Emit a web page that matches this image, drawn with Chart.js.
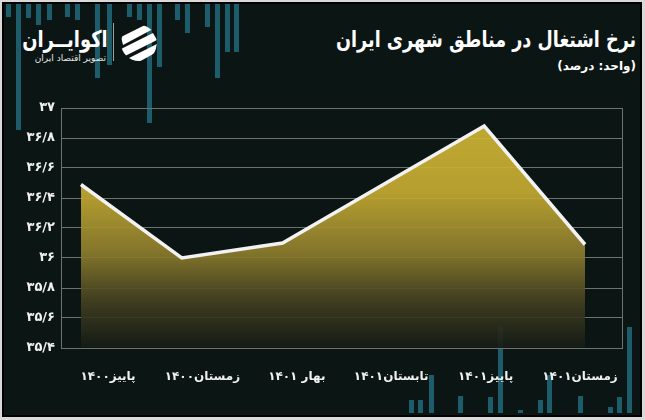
<!DOCTYPE html>
<html>
<head>
<meta charset="utf-8">
<script src="https://cdn.jsdelivr.net/npm/chart.js@4.4.1/dist/chart.umd.min.js"></script>
<style>
  html, body { margin: 0; padding: 0; }
  body { position: relative; width: 645px; height: 420px; background: #d9d9d9; overflow: hidden; font-family: "DejaVu Sans", sans-serif; }
  #frame { position: absolute; left: 2px; top: 2px; right: 3px; bottom: 3px; background: #0b1513; border: 2px solid #000; }
  .bar { position: absolute; width: 5px; background: #1d5d6b; }
  #title { position: absolute; right: 9px; top: 26px; color: #fff; font: bold 22px "DejaVu Sans"; line-height: 28px; direction: rtl; white-space: nowrap; transform: scaleX(0.8); transform-origin: right center; }
  #unit { position: absolute; right: 9px; top: 58px; color: #fff; font: bold 12px "DejaVu Sans"; line-height: 16px; direction: rtl; white-space: nowrap; }
  #brand { position: absolute; right: 537px; top: 25px; color: #fff; font: bold 23px "DejaVu Sans"; line-height: 28px; direction: rtl; white-space: nowrap; transform: scaleX(0.78); transform-origin: right center; }
  #tagline { position: absolute; right: 539px; top: 52px; color: #e6e6e6; font: 9px "DejaVu Sans"; line-height: 12px; direction: rtl; white-space: nowrap; }
  #sep { position: absolute; left: 113px; top: 23px; width: 1px; height: 38px; background: #9aa3a3; }
  #icon { position: absolute; left: 119px; top: 23px; }
  #wrap { position: absolute; left: 0; top: 0; width: 645px; height: 420px; }
  canvas { direction: rtl; }
</style>
</head>
<body>
<div id="frame"></div>
<div id="bars"></div>
<div id="title">نرخ اشتغال در مناطق شهری ایران</div>
<div id="unit">(واحد: درصد)</div>
<div id="brand">اکوایــران</div>
<div id="tagline">تصویر اقتصاد ایران</div>
<div id="sep"></div>
<svg id="icon" width="40" height="40" viewBox="0 0 40 40">
  <defs><clipPath id="c"><circle cx="20" cy="20" r="18"/></clipPath></defs>
  <g clip-path="url(#c)" fill="#fff">
    <polygon points="2,14 26,2 34,6 4,22"/>
    <polygon points="2,26 34,10 38,17 6,33"/>
    <polygon points="8,36 38,21 36,30 18,40"/>
  </g>
</svg>
<div id="wrap"><canvas id="chart"></canvas></div>
<script>
const periods = ["پاییز۱۴۰۰", "زمستان۱۴۰۰", "بهار ۱۴۰۱", "تابستان۱۴۰۱", "پاییز۱۴۰۱", "زمستان۱۴۰۱"]
const rate = [36.49, 36.0, 36.1, 36.49, 36.88, 36.09]
const yTicks = [35.4, 35.6, 35.8, 36, 36.2, 36.4, 36.6, 36.8, 37]

// decorative teal stripes of the publisher's template
const topBars = [[6, 17], [16, 130], [26, 18], [36, 25], [47, 20], [65, 17], [75, 20], [95, 78], [107, 65],
  [127, 17], [137, 20], [147, 123], [157, 67], [175, 20], [185, 33], [205, 27], [215, 78], [225, 52], [234, 52]]
const bottomBars = [[409, 400], [418, 400], [429, 375], [458, 396], [488, 397], [498, 327], [518, 410],
  [538, 400], [547, 375], [578, 396], [608, 407], [617, 397], [627, 327]]

const barsEl = document.getElementById("bars")
topBars.forEach(([x, y]) => {
  const d = document.createElement("div")
  d.className = "bar"
  d.style.cssText = `left:${x}px;top:4px;height:${y - 4}px`
  barsEl.appendChild(d)
})
bottomBars.forEach(([x, y]) => {
  const d = document.createElement("div")
  d.className = "bar"
  d.style.cssText = `left:${x}px;top:${y}px;height:${413 - y}px`
  barsEl.appendChild(d)
})

const faDigits = "۰۱۲۳۴۵۶۷۸۹"
function toFa(v) {
  const s = String(Math.round(v * 10) / 10).replace(".", "/")
  return s.replace(/[0-9]/g, d => faDigits[d])
}

const gridColor = "#6d7170"

const plotFrame = {
  id: "plotFrame",
  beforeDatasetsDraw(chart) {
    const { ctx, chartArea: a } = chart
    ctx.save()
    ctx.strokeStyle = gridColor
    ctx.lineWidth = 1
    ctx.strokeRect(Math.round(a.left) + 0.5, Math.round(a.top) + 0.5, Math.round(a.right - a.left), Math.round(a.bottom - a.top))
    ctx.restore()
  }
}

new Chart(document.getElementById("chart"), {
  type: "line",
  data: {
    datasets: [
      {
        data: rate.map((v, i) => ({ x: i, y: v })),
        xAxisID: "xd",
        borderColor: "#f2f2f2",
        borderWidth: 3.5,
        pointRadius: 0,
        tension: 0,
        fill: "start",
        backgroundColor: function(context) {
          const a = context.chart.chartArea
          if (!a) return "rgba(200,175,50,0.9)"
          const g = context.chart.ctx.createLinearGradient(0, a.top, 0, a.bottom)
          g.addColorStop(0, "rgba(210,184,52,0.92)")
          g.addColorStop(0.35, "rgba(197,171,50,0.92)")
          g.addColorStop(0.6, "rgba(142,126,46,0.92)")
          g.addColorStop(0.8, "rgba(70,66,34,0.92)")
          g.addColorStop(1, "rgba(22,28,22,0.92)")
          return g
        }
      }
    ]
  },
  options: {
    responsive: true,
    maintainAspectRatio: false,
    animation: false,
    layout: { padding: { top: 108, right: 23, left: 4, bottom: 32 } },
    plugins: {
      legend: { display: false },
      tooltip: { enabled: false }
    },
    scales: {
      xd: {
        type: "linear",
        display: false,
        min: -0.198,
        max: 5.367
      },
      x: {
        type: "linear",
        position: "bottom",
        min: -0.498,
        max: 5.445,
        afterBuildTicks: scale => { scale.ticks = periods.map((p, i) => ({ value: i })) },
        afterFit: scale => { scale.height = 40 },
        grid: { display: false },
        border: { display: true, color: gridColor },
        ticks: {
          autoSkip: false,
          maxRotation: 0,
          padding: 14,
          color: "#f0f0f0",
          font: { family: "DejaVu Sans", size: 12, weight: "bold" },
          callback: value => periods[value]
        }
      },
      y: {
        min: 35.4,
        max: 37,
        afterBuildTicks: scale => { scale.ticks = yTicks.map(v => ({ value: v })) },
        afterFit: scale => { scale.width = 57 },
        grid: { color: gridColor, drawTicks: false },
        border: { display: true, color: gridColor },
        ticks: {
          padding: 6,
          color: "#f0f0f0",
          font: { family: "DejaVu Sans", size: 13, weight: "bold" },
          callback: value => toFa(value)
        }
      }
    }
  },
  plugins: [plotFrame]
})
</script>
</body>
</html>
